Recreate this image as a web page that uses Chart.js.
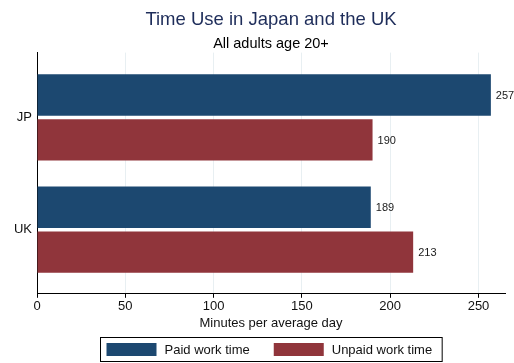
<!DOCTYPE html>
<html>
<head>
<meta charset="utf-8">
<script src="https://cdn.jsdelivr.net/npm/chart.js@4"></script>
<style>
  html, body { margin: 0; padding: 0; background: #fff; }
  #wrap { width: 514px; height: 363px; }
</style>
</head>
<body>
<div id="wrap"><canvas id="chartTimeUse"></canvas></div>
<script>
// data
const categories = ['JP', 'UK'];
const seriesNames = ['Paid work time', 'Unpaid work time'];
const paidWork = [257, 189];
const unpaidWork = [190, 213];
const xTicks = [0, 50, 100, 150, 200, 250];

const FONT = "'Liberation Sans', Arial, Helvetica, sans-serif";
const colPaid = '#1c4870';
const colUnpaid = '#90353b';

// value labels at the end of each bar
const barLabels = {
  id: 'barLabels',
  afterDatasetsDraw(chart) {
    const ctx = chart.ctx;
    ctx.save();
    ctx.font = '11px ' + FONT;
    ctx.fillStyle = '#1a1a1a';
    ctx.textAlign = 'left';
    ctx.textBaseline = 'middle';
    chart.data.datasets.forEach(function (ds, d) {
      const meta = chart.getDatasetMeta(d);
      meta.data.forEach(function (el, i) {
        ctx.fillText(ds.data[i].x, el.x + 5, el.y + 1);
      });
    });
    ctx.restore();
  }
};

// boxed legend under the axis title, centred on the plot region
const boxLegend = {
  id: 'boxLegend',
  afterDraw(chart) {
    const ctx = chart.ctx;
    const area = chart.chartArea;
    const boxW = 50, boxH = 13, txtGap = 8, itemGap = 24, padL = 6, padR = 10;
    ctx.save();
    ctx.font = '13px ' + FONT;
    const items = chart.data.datasets.map(function (ds) {
      return { text: ds.label, color: ds.backgroundColor, w: boxW + txtGap + ctx.measureText(ds.label).width };
    });
    let total = padL + padR;
    items.forEach(function (it, i) { total += it.w + (i > 0 ? itemGap : 0); });
    const cx = (area.left + area.right) / 2;
    const top = chart.height - 25.5;
    const bottom = chart.height - 1.5;
    let x = Math.round(cx - total / 2) + 0.5;
    ctx.strokeStyle = '#000';
    ctx.lineWidth = 1;
    ctx.strokeRect(x, top, total, bottom - top);
    x += padL;
    const midY = (top + bottom) / 2;
    items.forEach(function (it) {
      ctx.fillStyle = it.color;
      ctx.fillRect(x, midY - boxH / 2, boxW, boxH);
      ctx.fillStyle = '#111';
      ctx.textAlign = 'left';
      ctx.textBaseline = 'middle';
      ctx.fillText(it.text, x + boxW + txtGap, midY + 1);
      x += it.w + itemGap;
    });
    ctx.restore();
  }
};

const ctxChart = document.getElementById('chartTimeUse').getContext('2d');
const chart = new Chart(ctxChart, {
  type: 'bar',
  data: {
    datasets: [
      {
        label: seriesNames[0],
        data: categories.map(function (c, i) { return { x: paidWork[i], y: i }; }),
        backgroundColor: colPaid,
        borderWidth: 0
      },
      {
        label: seriesNames[1],
        data: categories.map(function (c, i) { return { x: unpaidWork[i], y: i }; }),
        backgroundColor: colUnpaid,
        borderWidth: 0
      }
    ]
  },
  options: {
    indexAxis: 'y',
    responsive: true,
    maintainAspectRatio: false,
    animation: false,
    categoryPercentage: 0.8,
    barPercentage: 0.92,
    layout: { padding: { top: 0, right: 9, bottom: 32, left: 0 } },
    scales: {
      x: {
        type: 'linear',
        min: 0,
        max: 265,
        afterBuildTicks: function (scale) {
          scale.ticks = xTicks.map(function (v) { return { value: v }; });
        },
        ticks: { color: '#111', font: { family: FONT, size: 13 }, padding: 1, maxRotation: 0 },
        grid: { color: '#e8eff2', lineWidth: 1, tickLength: 4, tickColor: '#000', drawTicks: true },
        border: { display: true, color: '#000', width: 1 },
        title: {
          display: true,
          text: 'Minutes per average day',
          color: '#111',
          font: { family: FONT, size: 13 },
          padding: { top: 0, bottom: 0 }
        }
      },
      y: {
        type: 'linear',
        reverse: true,
        offset: false,
        min: -0.578,
        max: 1.571,
        afterBuildTicks: function (scale) {
          scale.ticks = categories.map(function (c, i) { return { value: i }; });
        },
        afterFit: function (scale) { scale.width = 37; },
        ticks: {
          color: '#111',
          font: { family: FONT, size: 13 },
          padding: 5,
          callback: function (v) { return categories[v]; }
        },
        grid: { display: false, drawTicks: false, offset: false },
        border: { display: true, color: '#000', width: 1 }
      }
    },
    plugins: {
      legend: { display: false },
      tooltip: { enabled: false },
      title: {
        display: true,
        fullSize: false,
        text: 'Time Use in Japan and the UK',
        color: '#1e2d5a',
        font: { family: FONT, size: 18.5, weight: 'normal' },
        padding: { top: 9, bottom: 0 }
      },
      subtitle: {
        display: true,
        fullSize: false,
        text: 'All adults age 20+',
        color: '#000',
        font: { family: FONT, size: 14.5, weight: 'normal' },
        padding: { top: 4, bottom: 0 }
      }
    }
  },
  plugins: [barLabels, boxLegend]
});
</script>
</body>
</html>
